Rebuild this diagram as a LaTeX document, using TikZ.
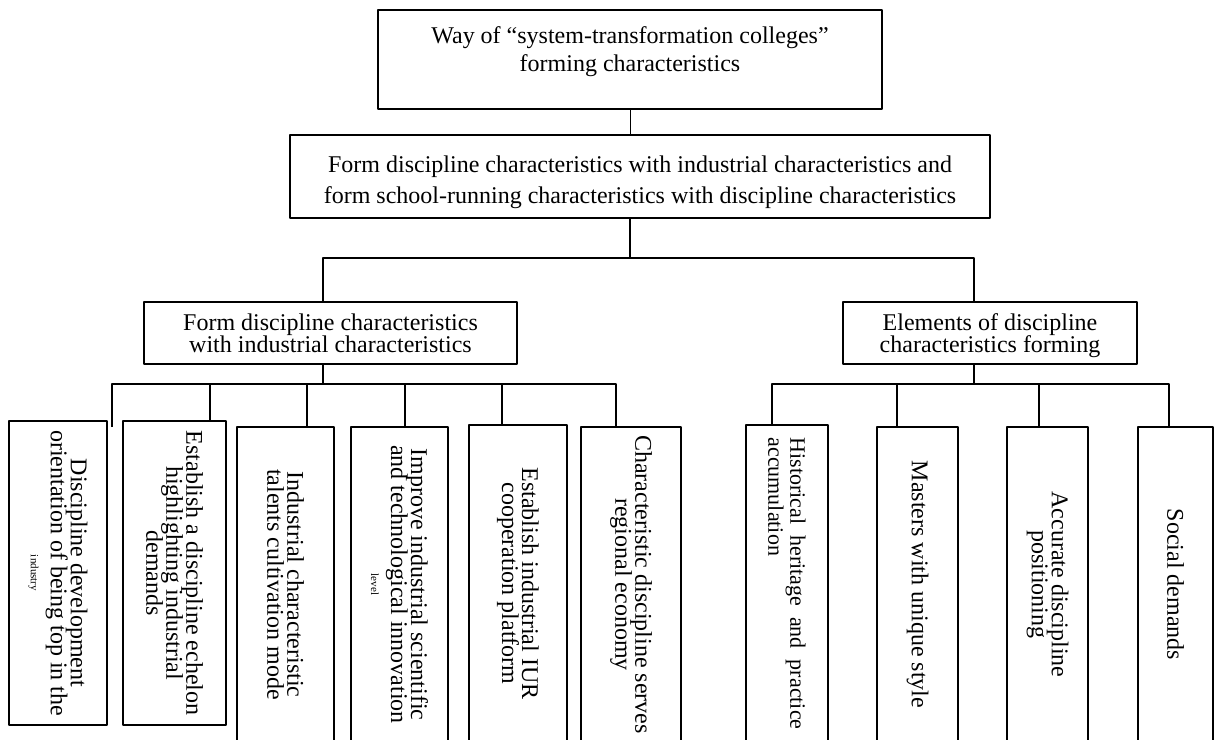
\documentclass[tikz,border=0pt]{standalone}
\usepackage{fontspec}
\setmainfont{Liberation Serif}
\newcommand\tightlines{\lineskiplimit=-30pt\relax}
\begin{document}
\begin{tikzpicture}[x=1pt,y=-1pt,line join=round,line width=1.8pt]
			\tikzset{box/.style={draw,line width=2pt,inner sep=0pt,align=center},
				head/.style={box,font={\fontsize{24}{22}\selectfont\tightlines},text height=50pt,text depth=12pt},
				leaf/.style={box,rotate=-90,font={\fontsize{24}{20}\selectfont\tightlines}}}
			\useasboundingbox (0,0) rectangle (1215,739);
			\node[box,anchor=north,font=\fontsize{24}{28}\selectfont,minimum width=504pt,text height=61pt,text depth=38pt] (way) at (630,9) {Way of “system-transformation colleges”\\forming characteristics};
			\node[box,anchor=north,font=\fontsize{24}{31}\selectfont,minimum width=700pt,text height=68pt,text depth=15pt] (core) at (640,134) {Form discipline characteristics with industrial characteristics and\\form school-running characteristics with discipline characteristics};
			\node[head,anchor=north,minimum width=373pt] (ind) at (330.5,301) {Form discipline characteristics\\with industrial characteristics};
			\node[head,anchor=north,minimum width=294pt] (elem) at (990,301) {Elements of discipline\\characteristics forming};
			\node[leaf,minimum width=304pt,minimum height=98pt] (b1) at (58,573) {Discipline development\\orientation of being top in the\\{\fontsize{11}{11}\selectfont industry}};
			\node[leaf,minimum width=304pt,minimum height=103pt] (b2) at (174.5,573) {Establish a discipline echelon\\highlighting industrial\\demands};
			\node[leaf,minimum width=315pt,minimum height=97pt] (b3) at (285.5,584.5) {Industrial characteristic\\talents cultivation mode};
			\node[leaf,minimum width=315pt,minimum height=97pt] (b4) at (399.5,584.5) {Improve industrial scientific\\and technological innovation\\{\fontsize{11}{11}\selectfont level}};
			\node[leaf,minimum width=317pt,minimum height=98pt] (b5) at (518,583.5) {Establish industrial IUR\\cooperation platform};
			\node[leaf,minimum width=315pt,minimum height=100pt] (b6) at (631,584.5) {Characteristic discipline serves\\regional economy};
			\node[leaf,font=\fontsize{22}{22}\selectfont,align=left,minimum width=317pt,minimum height=82pt] (b7) at (787,583.5) {\makebox[292pt][s]{Historical heritage and practice}\\accumulation};
			\node[leaf,minimum width=315pt,minimum height=81pt] (b8) at (917.5,584.5) {Masters with unique style};
			\node[leaf,minimum width=315pt,minimum height=81pt] (b9) at (1047.5,584.5) {Accurate discipline\\positioning};
			\node[leaf,minimum width=315pt,minimum height=75pt] (b10) at (1175.5,584.5) {Social demands};
			\coordinate (hub) at (630,258);
			\coordinate (forkL) at (323,258);
			\coordinate (forkR) at (974,258);
			\coordinate (indL) at (112,384);
			\coordinate (indR) at (616,384);
			\coordinate (elemL) at (772,384);
			\coordinate (elemR) at (1169,384);
			\coordinate (stub) at (112,427);
			\draw[line width=1pt] (way.south) -- (way.south |- core.north);
			\draw (hub |- core.south) -- (hub);
			\draw (forkL |- ind.north) -- (forkL) -- (forkR) -- (forkR |- elem.north);
			\draw (forkL |- ind.south) -- (forkL |- indL);
			\draw (forkR |- elem.south) -- (forkR |- elemL);
			\draw (stub) -- (indL) -- (indR) -- (indR |- b6.west);
			\draw (elemL |- b7.west) -- (elemL) -- (elemR) -- (elemR |- b10.west);
			\foreach \x/\b in {210/b2,307/b3,405/b4,502/b5}
			\draw (\x,384) -- (\x,384 |- \b.west);
			\foreach \x/\b in {897/b8,1039/b9}
			\draw (\x,384) -- (\x,384 |- \b.west);
\end{tikzpicture}
\end{document}
